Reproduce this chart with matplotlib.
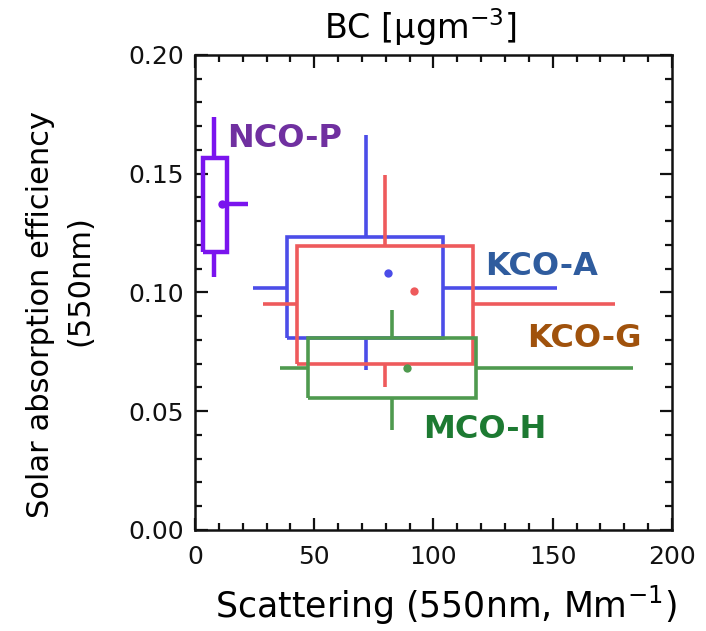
import matplotlib.pyplot as plt
from matplotlib.ticker import MultipleLocator

plt.rcParams["mathtext.default"] = "regular"
plt.rcParams["font.family"] = "DejaVu Sans"

# per-site statistics: scattering (Mm-1) and solar absorption efficiency
sites = ["KCO-A", "KCO-G", "MCO-H", "NCO-P"]
scat_q1 = [38.4, 42.9, 47.5, 3.5]
scat_q3 = [104.1, 116.7, 117.8, 13.3]
scat_lo = [24.4, 28.6, 35.6, 2.8]
scat_hi = [151.7, 176.1, 183.8, 22.3]
scat_mid = [71.7, 79.7, 82.7, 8.1]
sae_q1 = [0.0807, 0.0698, 0.0555, 0.1172]
sae_q3 = [0.1235, 0.1197, 0.0807, 0.1565]
sae_lo = [0.0674, 0.0603, 0.0421, 0.1067]
sae_hi = [0.1663, 0.1495, 0.0926, 0.1740]
sae_mid = [0.1020, 0.0952, 0.0681, 0.1373]
scat_mean = [81.0, 91.8, 89.0, 11.2]
sae_mean = [0.1081, 0.1006, 0.0683, 0.1373]

line_colors = ["#4b4de8", "#ee5a5c", "#4f9a4f", "#7a14ee"]
line_widths = [2.6, 2.6, 2.6, 3.2]
label_colors = ["#2f5c9e", "#a0520c", "#1d7a32", "#7030a0"]
label_xy = [(121.8, 0.1074), (139.2, 0.0771), (95.6, 0.0387), (13.4, 0.1613)]

fig = plt.figure(figsize=(7.06, 6.31), dpi=100)
ax = fig.add_axes([0.2762, 0.1601, 0.6756, 0.7528])

for i, name in enumerate(sites):
    c = line_colors[i]
    lw = line_widths[i]
    kw = dict(color=c, lw=lw, solid_capstyle="butt", zorder=3 + i)
    x1, x2 = scat_q1[i], scat_q3[i]
    y1, y2 = sae_q1[i], sae_q3[i]
    # interquartile box
    ax.plot([x1, x2, x2, x1, x1], [y1, y1, y2, y2, y1],
            solid_joinstyle="miter", **kw)
    # whiskers outside the box
    ax.plot([scat_mid[i], scat_mid[i]], [y2, sae_hi[i]], **kw)
    ax.plot([scat_mid[i], scat_mid[i]], [sae_lo[i], y1], **kw)
    ax.plot([scat_lo[i], x1], [sae_mid[i], sae_mid[i]], **kw)
    ax.plot([x2, scat_hi[i]], [sae_mid[i], sae_mid[i]], **kw)
    ax.plot(scat_mean[i], sae_mean[i], "o", color=c, ms=6, mew=0, zorder=8)
    ax.text(label_xy[i][0], label_xy[i][1], name, color=label_colors[i],
            fontsize=23, fontweight="bold", ha="left", va="baseline")

ax.set_xlim(0, 200)
ax.set_ylim(0, 0.20)
ax.xaxis.set_major_locator(MultipleLocator(50))
ax.xaxis.set_minor_locator(MultipleLocator(10))
ax.yaxis.set_major_locator(MultipleLocator(0.05))
ax.yaxis.set_minor_locator(MultipleLocator(0.01))
ax.yaxis.set_major_formatter(plt.FormatStrFormatter("%.2f"))
ax.tick_params(which="both", direction="in", top=True, right=True,
               width=1.6, colors="#111111", labelsize=18)
ax.tick_params(which="major", length=9)
ax.tick_params(which="minor", length=5)
ax.tick_params(axis="x", pad=11)
ax.tick_params(axis="y", pad=8)
for sp in ax.spines.values():
    sp.set_linewidth(1.8)
    sp.set_color("#111111")

fig.text(0.596, 0.957, "BC [μgm$^{-3}$]", fontsize=24,
         ha="center", va="center")
fig.text(0.632, 0.041, "Scattering (550nm, Mm$^{-1}$)", fontsize=25,
         ha="center", va="center")
fig.text(0.057, 0.501, "Solar absorption efficiency", fontsize=22,
         rotation=90, ha="center", va="center")
fig.text(0.113, 0.556, "(550nm)", fontsize=22,
         rotation=90, ha="center", va="center")

fig.savefig("out.png", dpi=100)
